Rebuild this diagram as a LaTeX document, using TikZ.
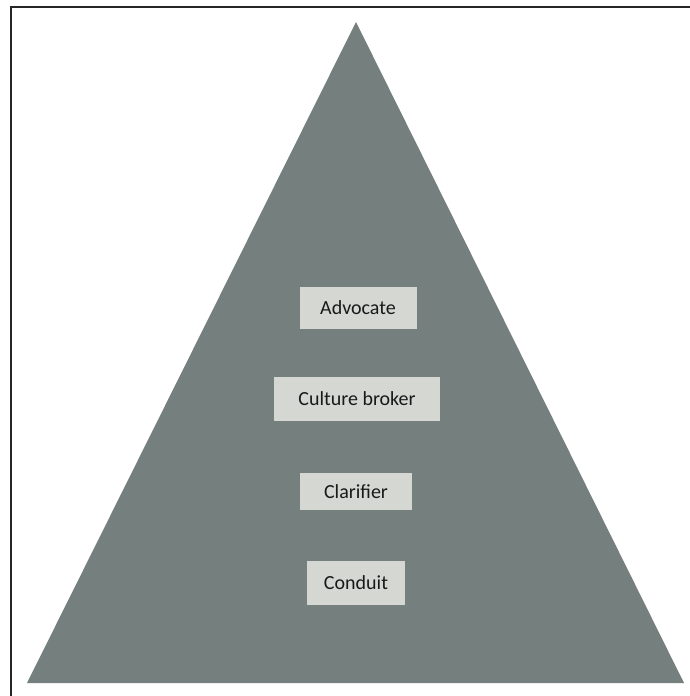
\documentclass[tikz,border=0pt]{standalone}
\usepackage{fontspec}
\setmainfont{Carlito}
\definecolor{pyramidgray}{HTML}{757F7E}
\definecolor{boxgray}{HTML}{D4D7D2}
\tikzset{
	rolebox/.style={fill=boxgray, inner sep=0pt, font=\fontsize{20}{22}\selectfont, text=black!90},
}
\begin{document}
\begin{tikzpicture}[x=1pt,y=-1pt]
	\useasboundingbox (0,0) rectangle (690,696);
	\fill[white] (0,0) rectangle (690,696);
	\draw[line width=1.5pt, black!85] (11,696) -- (11,7) -- (690,7);
	
	\fill[pyramidgray] (356,22) -- (684,683) -- (27,683) -- cycle;
	
	\node[rolebox, minimum width=117pt, minimum height=42pt] (advocate) at (358,308) {Advocate};
	\node[rolebox, minimum width=166pt, minimum height=44pt] (broker) at (357,399) {Culture broker};
	\node[rolebox, minimum width=112pt, minimum height=37pt] (clarifier) at (356,491.5) {Clarifier};
	\node[rolebox, minimum width=98pt, minimum height=44pt] (conduit) at (356,583) {Conduit};
\end{tikzpicture}
\end{document}
